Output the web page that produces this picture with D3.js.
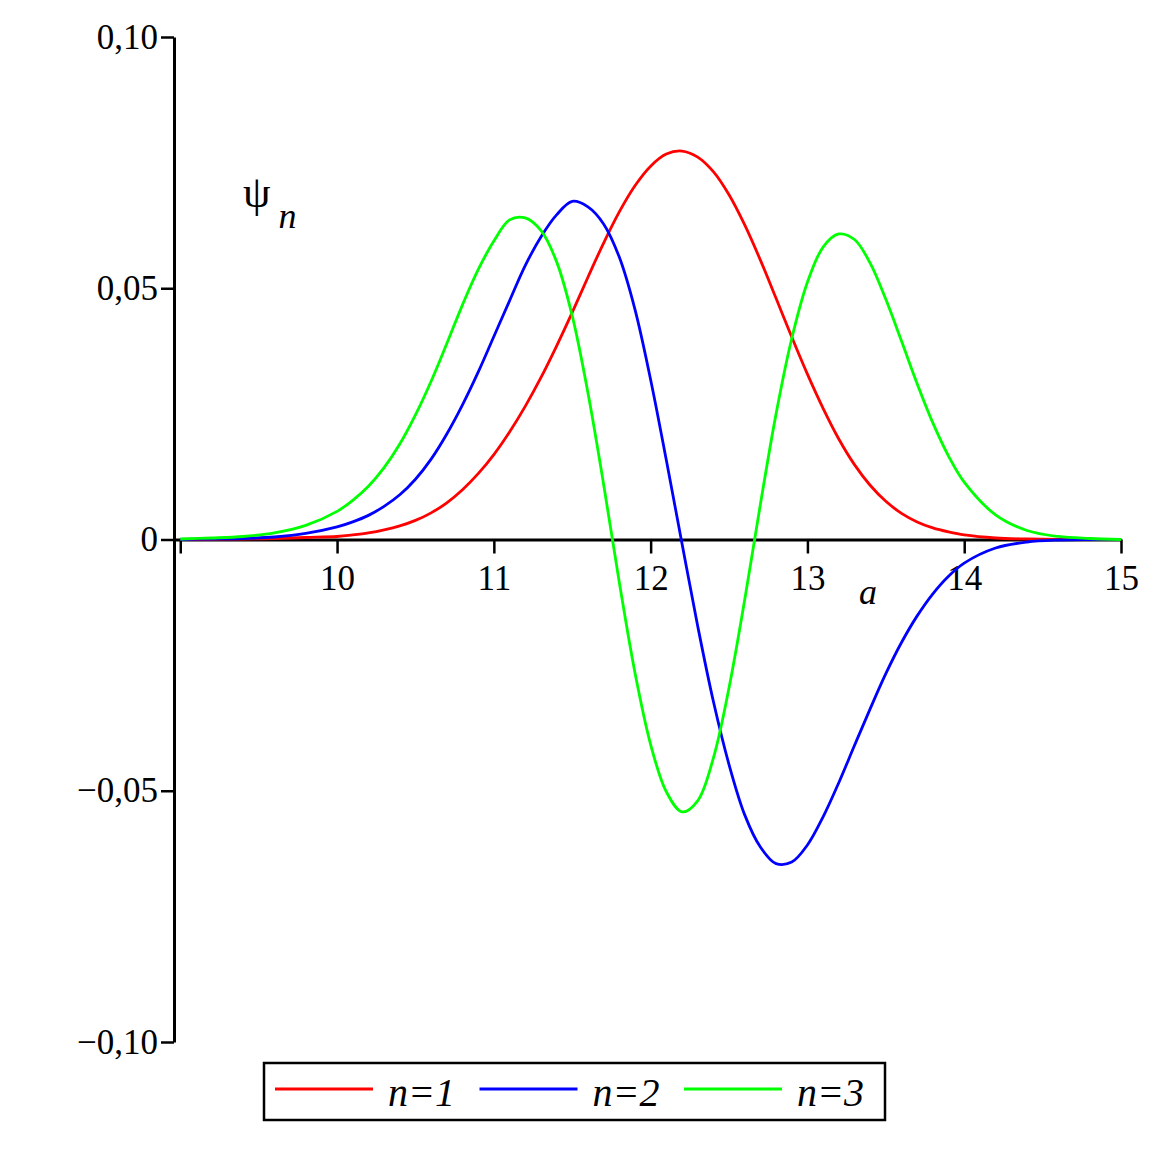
<!DOCTYPE html>
<html>
<head>
<meta charset="utf-8">
<script src="https://cdn.jsdelivr.net/npm/d3@7"></script>
<style>
  html, body { margin: 0; padding: 0; background: #fff; }
  svg { display: block; }
  text { font-family: "Liberation Serif", "Times New Roman", serif; fill: #000; }
</style>
</head>
<body>
<svg id="chart" width="1157" height="1157"></svg>
<script>
// sample positions along a
let xs = [9.0, 9.2, 9.4, 9.6, 9.8,
  10.0, 10.1, 10.2, 10.3, 10.4, 10.5, 10.6, 10.7, 10.8, 10.9,
  11.0, 11.1, 11.2, 11.3, 11.4, 11.5, 11.6, 11.7, 11.8, 11.9,
  12.0, 12.1, 12.2, 12.3, 12.4, 12.5, 12.6, 12.7, 12.8, 12.9,
  13.0, 13.1, 13.2, 13.3, 13.4, 13.5, 13.6, 13.7, 13.8, 13.9,
  14.0, 14.2, 14.4, 14.6, 14.8, 15.0];

let psi1 = [0, 0.00005, 0.0001, 0.0002, 0.0004,
  0.0006, 0.0009, 0.0013, 0.0019, 0.0027, 0.0038, 0.0053, 0.0073, 0.0099, 0.0131,
  0.0169, 0.0214, 0.0265, 0.0322, 0.0385, 0.0452, 0.0522, 0.0590, 0.0652, 0.0704,
  0.0743, 0.0767, 0.0773, 0.0761, 0.0732, 0.0686, 0.0626, 0.0556, 0.0480, 0.0403,
  0.0329, 0.0261, 0.0200, 0.0149, 0.0108, 0.0076, 0.0052, 0.0035, 0.0023, 0.0015,
  0.0009, 0.0003, 0.0001, 0, 0, 0];

let psi2 = [0, 0.0001, 0.0002, 0.0005, 0.0012,
  0.0025, 0.0035, 0.0048, 0.0066, 0.0089, 0.0120, 0.0160, 0.0210, 0.0268, 0.0333,
  0.0404, 0.0475, 0.0545, 0.0602, 0.0646, 0.0673, 0.0662, 0.0628, 0.0562, 0.0458,
  0.0318, 0.0158, -0.0008, -0.0172, -0.0322, -0.0448, -0.0548, -0.0612, -0.0645, -0.0642,
  -0.0608, -0.0552, -0.0484, -0.0410, -0.0337, -0.0267, -0.0205, -0.0152, -0.0108, -0.0073,
  -0.0047, -0.0017, -0.0005, -0.0001, 0, 0];

let psi3 = [0.0001, 0.0003, 0.0006, 0.0013, 0.0028,
  0.0056, 0.0078, 0.0106, 0.0143, 0.0190, 0.0248, 0.0315, 0.0390, 0.0467, 0.0537,
  0.0594, 0.0636, 0.0640, 0.0615, 0.0553, 0.0445, 0.0292, 0.0110, -0.0085, -0.0265,
  -0.0408, -0.0502, -0.0542, -0.0520, -0.0435, -0.0295, -0.0120, 0.0070, 0.0250, 0.0400,
  0.0512, 0.0582, 0.0608, 0.0597, 0.0550, 0.0478, 0.0395, 0.0310, 0.0232, 0.0166,
  0.0114, 0.0049, 0.0018, 0.0006, 0.0002, 0];

let seriesNames = ["n=1", "n=2", "n=3"];
let seriesColors = ["#ff0000", "#0000ff", "#00ff00"];

let xMajorTicks = [9, 10, 11, 12, 13, 14, 15];
let xMinorTicks = [9.5, 10.5, 11.5, 12.5, 13.5, 14.5];
let yMajorTicks = [-0.1, -0.05, 0, 0.05, 0.1];
let yTickLabels = ["\u22120,10", "\u22120,05", "0", "0,05", "0,10"];

let svg = d3.select("#chart");

let x = d3.scaleLinear().domain([8.96, 15]).range([174, 1121]);
let y = d3.scaleLinear().domain([-0.1, 0.1]).range([1042, 37]);

// x axis (through y = 0)
let gx = svg.append("g").attr("transform", "translate(0," + y(0) + ")");
gx.call(d3.axisBottom(x).tickValues(xMinorTicks).tickSize(6).tickSizeOuter(0).tickFormat(""));
gx.call(d3.axisBottom(x).tickValues(xMajorTicks).tickSize(14).tickSizeOuter(0).tickPadding(12)
  .tickFormat(d => d === 9 ? "" : d));

// y axis (at left edge of plot)
let yMinor = d3.range(-10, 11).map(d => d / 100);
let gy = svg.append("g").attr("transform", "translate(" + x(8.96) + ",0)");
gy.call(d3.axisLeft(y).tickValues(yMinor).tickSize(7).tickSizeOuter(0).tickFormat(""));
gy.call(d3.axisLeft(y).tickValues(yMajorTicks).tickSize(13).tickSizeOuter(0).tickPadding(3)
  .tickFormat((d, i) => yTickLabels[i]));

svg.selectAll(".domain").attr("stroke", "#000").attr("stroke-width", 3);
svg.selectAll(".tick line").attr("stroke", "#000").attr("stroke-width", 2.5);
svg.selectAll(".tick text")
  .attr("font-family", "Liberation Serif, Times New Roman, serif")
  .attr("font-size", 35)
  .attr("fill", "#000");
gx.attr("font-family", null);
gy.attr("font-family", null);

// curves
let line = d3.line()
  .x((d, i) => x(xs[i]))
  .y(d => y(d))
  .curve(d3.curveCatmullRom.alpha(0.5));

[psi1, psi2, psi3].forEach((s, k) => {
  svg.append("path")
    .datum(s)
    .attr("fill", "none")
    .attr("stroke", seriesColors[k])
    .attr("stroke-width", 2.8)
    .attr("d", line);
});

// axis titles
svg.append("text")
  .attr("x", 868).attr("y", 604)
  .attr("text-anchor", "middle")
  .attr("font-size", 36)
  .attr("font-style", "italic")
  .text("a");

let ylab = svg.append("text")
  .attr("x", 243).attr("y", 207)
  .attr("font-size", 44);
ylab.append("tspan").text("\u03c8");
ylab.append("tspan")
  .attr("font-style", "italic")
  .attr("font-size", 36)
  .attr("dx", 8).attr("dy", 21)
  .text("n");

// legend
let legend = svg.append("g");
legend.append("rect")
  .attr("x", 264).attr("y", 1063)
  .attr("width", 621).attr("height", 57)
  .attr("fill", "none").attr("stroke", "#000").attr("stroke-width", 2.5);

seriesNames.forEach((name, k) => {
  let lx = 275 + k * 204.5;
  legend.append("line")
    .attr("x1", lx).attr("x2", lx + 98)
    .attr("y1", 1089).attr("y2", 1089)
    .attr("stroke", seriesColors[k]).attr("stroke-width", 2.8);
  legend.append("text")
    .attr("x", lx + 113).attr("y", 1106)
    .attr("font-size", 40)
    .attr("font-style", "italic")
    .text(name);
});
</script>
</body>
</html>
